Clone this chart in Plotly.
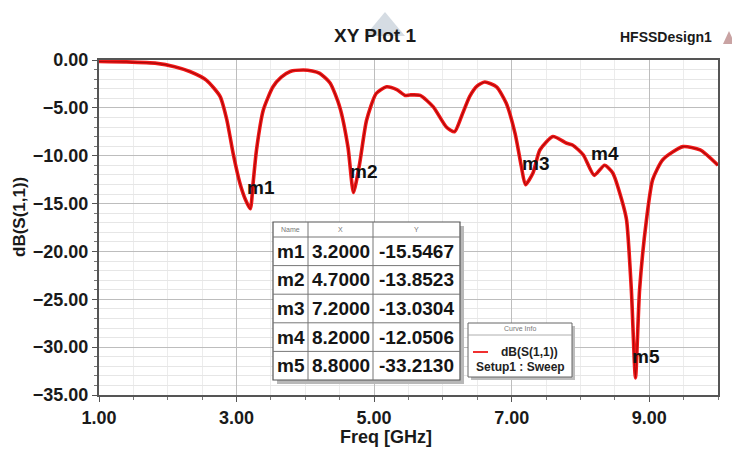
import plotly.graph_objects as go

# ---------------- data ----------------
freq_ghz = [1.0, 1.4, 1.84, 2.1, 2.32, 2.56, 2.76, 2.86, 2.95, 3.05, 3.13, 3.2, 3.24, 3.29, 3.39,
            3.53, 3.65, 3.78, 3.97, 4.1, 4.21, 4.36, 4.5, 4.62, 4.7, 4.79, 4.89, 5.03, 5.18, 5.33,
            5.45, 5.52, 5.67, 5.86, 6.05, 6.17, 6.27, 6.39, 6.5, 6.61, 6.78, 6.92, 7.05, 7.14, 7.2,
            7.31, 7.41, 7.6, 7.8, 7.89, 8.04, 8.2, 8.35, 8.47, 8.6, 8.67, 8.74, 8.8, 8.86, 8.96,
            9.05, 9.2, 9.49, 9.74, 10.0]
s11_db = [-0.15, -0.2, -0.35, -0.7, -1.2, -2.1, -3.8, -6.3, -9.75, -12.9, -14.6, -15.55, -12.9, -9.4, -5.2,
          -2.8, -1.8, -1.2, -1.05, -1.15, -1.4, -2.4, -4.9, -9.1, -13.85, -10.8, -6.3, -3.5, -2.8, -3.1,
          -3.7, -3.65, -3.7, -4.9, -7.0, -7.5, -5.9, -3.8, -2.7, -2.3, -2.8, -4.5, -7.7, -11.1, -13.03,
          -11.8, -9.4, -8.0, -8.7, -8.9, -9.9, -12.05, -11.0, -11.8, -14.6, -16.7, -24.0, -33.21, -24.0, -16.7,
          -12.5, -10.4, -9.05, -9.4, -11.0]

marker_names = ["m1", "m2", "m3", "m4", "m5"]
marker_x = [3.2000, 4.7000, 7.2000, 8.2000, 8.8000]
marker_y = [-15.5467, -13.8523, -13.0304, -12.0506, -33.2130]

x_tick_vals = [1, 3, 5, 7, 9]
y_tick_vals = [0, -5, -10, -15, -20, -25, -30, -35]

# ---------------- layout helpers (reference pixel -> paper) ----------------
PAGE_OFF = 8            # default body margin of the html page
W, H = 740 - PAGE_OFF, 454 - PAGE_OFF
L, R, T, B = 99, 718, 60, 395   # plot area in reference pixels


def px(x):
    return (x - L) / (R - L)


def py(y):
    return (B - y) / (B - T)


FONT = "Liberation Sans, Arial, sans-serif"


def note(x, y, text, size, color="#1a1a1a", xanchor="center", yanchor="middle", **kw):
    d = dict(x=px(x), y=py(y), xref="paper", yref="paper", text=text, showarrow=False,
             xanchor=xanchor, yanchor=yanchor, font=dict(family=FONT, size=size, color=color))
    d.update(kw)
    return d


fig = go.Figure()
fig.add_trace(go.Scatter(x=freq_ghz, y=s11_db, mode="lines",
                         line=dict(color="#f21818", width=3.6, shape="spline", smoothing=0.6),
                         hoverinfo="skip", showlegend=False))
fig.add_trace(go.Scatter(x=freq_ghz, y=s11_db, mode="lines",
                         line=dict(color="#a80808", width=1.1, shape="spline", smoothing=0.6),
                         name="dB(S(1,1))", showlegend=False))

shapes = []
annotations = []

# marker labels
for n, mx, my in zip(marker_names, marker_x, marker_y):
    annotations.append(dict(x=mx, y=my, xref="x", yref="y", text="<b>%s</b>" % n,
                            showarrow=False, xanchor="left", yanchor="bottom",
                            xshift=-5, yshift=9,
                            font=dict(family=FONT, size=19, color="#111")))

# marker table
tx0, tx1, ty0, thead = 273, 460, 222, 237
row_h = (380 - thead) / len(marker_names)
ty1 = thead + row_h * len(marker_names)
col = [273, 308, 373, 460]
shapes.append(dict(type="rect", xref="paper", yref="paper", x0=px(tx0 + 4), x1=px(tx1 + 4),
                   y0=py(ty1 + 4), y1=py(ty0 + 4), fillcolor="#b8b8b8", line=dict(width=0), layer="above"))
shapes.append(dict(type="rect", xref="paper", yref="paper", x0=px(tx0), x1=px(tx1),
                   y0=py(ty1), y1=py(ty0), fillcolor="white", line=dict(color="#555", width=1.2), layer="above"))
for c in col[1:3]:
    shapes.append(dict(type="line", xref="paper", yref="paper", x0=px(c), x1=px(c),
                       y0=py(ty1), y1=py(ty0), line=dict(color="#777", width=1), layer="above"))
for i in range(len(marker_names)):
    yy = thead + row_h * i
    shapes.append(dict(type="line", xref="paper", yref="paper", x0=px(tx0), x1=px(tx1),
                       y0=py(yy), y1=py(yy), line=dict(color="#777", width=1), layer="above"))
for txt, c0, c1 in zip(["Name", "X", "Y"], col[:-1], col[1:]):
    annotations.append(note((c0 + c1) / 2, (ty0 + thead) / 2, txt, 7, color="#777"))
for i, (n, mx, my) in enumerate(zip(marker_names, marker_x, marker_y)):
    yc = thead + row_h * (i + 0.5)
    for txt, c0, c1 in zip([n, "%.4f" % mx, "%.4f" % my], col[:-1], col[1:]):
        annotations.append(note((c0 + c1) / 2, yc, "<b>%s</b>" % txt, 19, color="#151515"))

# curve info box
lx0, lx1, ly0, ly1 = 468, 572, 323, 377
shapes.append(dict(type="rect", xref="paper", yref="paper", x0=px(lx0 + 3), x1=px(lx1 + 3),
                   y0=py(ly1 + 3), y1=py(ly0 + 3), fillcolor="#bdbdbd", line=dict(width=0), layer="above"))
shapes.append(dict(type="rect", xref="paper", yref="paper", x0=px(lx0), x1=px(lx1),
                   y0=py(ly1), y1=py(ly0), fillcolor="white", line=dict(color="#666", width=1), layer="above"))
shapes.append(dict(type="line", xref="paper", yref="paper", x0=px(lx0), x1=px(lx1),
                   y0=py(335), y1=py(335), line=dict(color="#999", width=0.8), layer="above"))
shapes.append(dict(type="line", xref="paper", yref="paper", x0=px(473), x1=px(488),
                   y0=py(352), y1=py(352), line=dict(color="#f03030", width=2), layer="above"))
annotations.append(note(520, 328, "Curve Info", 7, color="#777"))
annotations.append(note(529, 352, "<b>dB(S(1,1))</b>", 12, color="#222"))
annotations.append(note(520, 367, "<b>Setup1 : Sweep</b>", 12, color="#222"))

# titles
annotations.append(note(375, 36, "<b>XY Plot 1</b>", 19))
annotations.append(note(714, 37, "<b>HFSSDesign1</b>", 14, xanchor="right"))
annotations.append(note(386, 437, "<b>Freq [GHz]</b>", 18))
annotations.append(note(20, 217, "<b>dB(S(1,1))</b>", 17, textangle=-90))


# small decorative triangles at top
def tri(xa, xb, ytop, ybot, color):
    return dict(type="path", xref="paper", yref="paper",
                path="M %f %f L %f %f L %f %f Z" % (px(xa), py(ybot), px((xa + xb) / 2), py(ytop), px(xb), py(ybot)),
                fillcolor=color, line=dict(width=0), layer="above")


shapes.append(tri(365, 405, 12, 36, "#d5dce3"))
shapes.append(tri(723, 735, 31, 44, "#c9a3a3"))

tick_font = dict(family=FONT, size=18, color="#1a1a1a", weight="bold")

fig.update_layout(
    width=W, height=H,
    margin=dict(l=L - PAGE_OFF, r=W - (R - PAGE_OFF), t=T - PAGE_OFF, b=H - (B - PAGE_OFF), pad=0),
    paper_bgcolor="white", plot_bgcolor="white",
    shapes=shapes, annotations=annotations,
    xaxis=dict(range=[1, 10], tickvals=x_tick_vals, tickformat=".2f",
               showgrid=True, gridcolor="#bdbdbd", gridwidth=1,
               minor=dict(dtick=0.5, showgrid=True, gridcolor="#ececec", ticks="outside", ticklen=3, tickcolor="#777"),
               showline=True, linecolor="#555", linewidth=2, mirror=True,
               ticks="outside", ticklen=5, tickcolor="#555",
               tickfont=tick_font, zeroline=False),
    yaxis=dict(range=[-35, 0], tickvals=y_tick_vals, tickformat=".2f",
               showgrid=True, gridcolor="#bdbdbd", gridwidth=1,
               minor=dict(dtick=1, showgrid=True, gridcolor="#e6e6e6", ticks="outside", ticklen=3, tickcolor="#777"),
               showline=True, linecolor="#555", linewidth=2, mirror=True,
               ticks="outside", ticklen=5, tickcolor="#555",
               tickfont=tick_font, zeroline=False),
)

fig.write_html("out.html")
